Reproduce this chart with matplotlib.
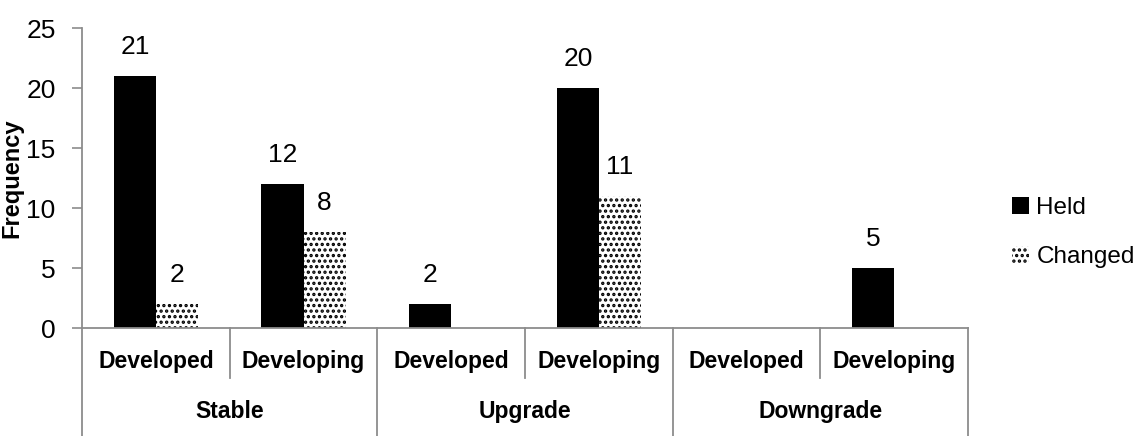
import numpy as np
import matplotlib
matplotlib.use("Agg")
import matplotlib.pyplot as plt
from matplotlib.patches import Patch

plt.rcParams['font.family'] = ['Liberation Sans Narrow', 'Liberation Sans', 'DejaVu Sans']
plt.rcParams['hatch.linewidth'] = 1.6

groups = ['Stable', 'Upgrade', 'Downgrade']
categories = ['Developed', 'Developing'] * 3
held = [21, 12, 2, 20, 0, 5]
changed = [2, 8, 0, 11, 0, 0]

axis_grey = '#8c8c8c'

fig = plt.figure(figsize=(11.41, 4.36), dpi=100)
ax = fig.add_axes([0.0719, 0.2477, 0.7765, 0.688])

x = np.arange(len(categories))
w = 0.285
ax.bar(x - w / 2, held, w, color='black', edgecolor='black', linewidth=0)
ax.bar(x + w / 2, changed, w, color='white', edgecolor='black', hatch='...', linewidth=0)

# value labels (skip zero values)
for xi, v in zip(x - w / 2, held):
    if v > 0:
        ax.annotate(str(v), (xi, v), xytext=(0, 12), textcoords='offset points',
                    ha='center', va='bottom', fontsize=19)
for xi, v in zip(x + w / 2, changed):
    if v > 0:
        ax.annotate(str(v), (xi, v), xytext=(0, 12), textcoords='offset points',
                    ha='center', va='bottom', fontsize=19)

ax.set_ylim(0, 25)
ax.set_xlim(-0.5, len(categories) - 0.5)
ax.set_yticks(range(0, 26, 5))
ax.tick_params(axis='y', labelsize=19, color=axis_grey, length=7, width=1.2, pad=12)
ax.set_xticks([])
for s in ['top', 'right']:
    ax.spines[s].set_visible(False)
for s in ['left', 'bottom']:
    ax.spines[s].set_color(axis_grey)
    ax.spines[s].set_linewidth(1.3)

ax.set_ylabel('Frequency', fontsize=17, fontweight='bold', va='center')
ax.yaxis.set_label_coords(-0.079, 0.5)

# multi-level category axis
trans = ax.get_xaxis_transform()
for i, c in enumerate(categories):
    ax.text(i, -0.113, c, transform=trans, ha='center', va='center',
            fontsize=16.5, fontweight='bold')
for g, name in enumerate(groups):
    ax.text(2 * g + 0.5, -0.277, name, transform=trans, ha='center', va='center',
            fontsize=16.5, fontweight='bold')
for b in [0.5, 2.5, 4.5]:
    ax.plot([b, b], [0, -0.167], transform=trans, color=axis_grey, lw=1.3, clip_on=False)
for b in [-0.5, 1.5, 3.5, 5.5]:
    ax.plot([b, b], [0, -0.37], transform=trans, color=axis_grey, lw=1.3, clip_on=False)

handles = [Patch(facecolor='black', edgecolor='black', linewidth=0),
           Patch(facecolor='white', edgecolor='black', hatch='...', linewidth=0)]
fig.legend(handles, ['Held', 'Changed'], loc='center left', bbox_to_anchor=(0.887, 0.467),
           frameon=False, fontsize=17.5, handlelength=0.7, handleheight=0.7,
           handletextpad=0.3, labelspacing=1.1, borderaxespad=0, borderpad=0)

fig.savefig('out.png', dpi=100)
